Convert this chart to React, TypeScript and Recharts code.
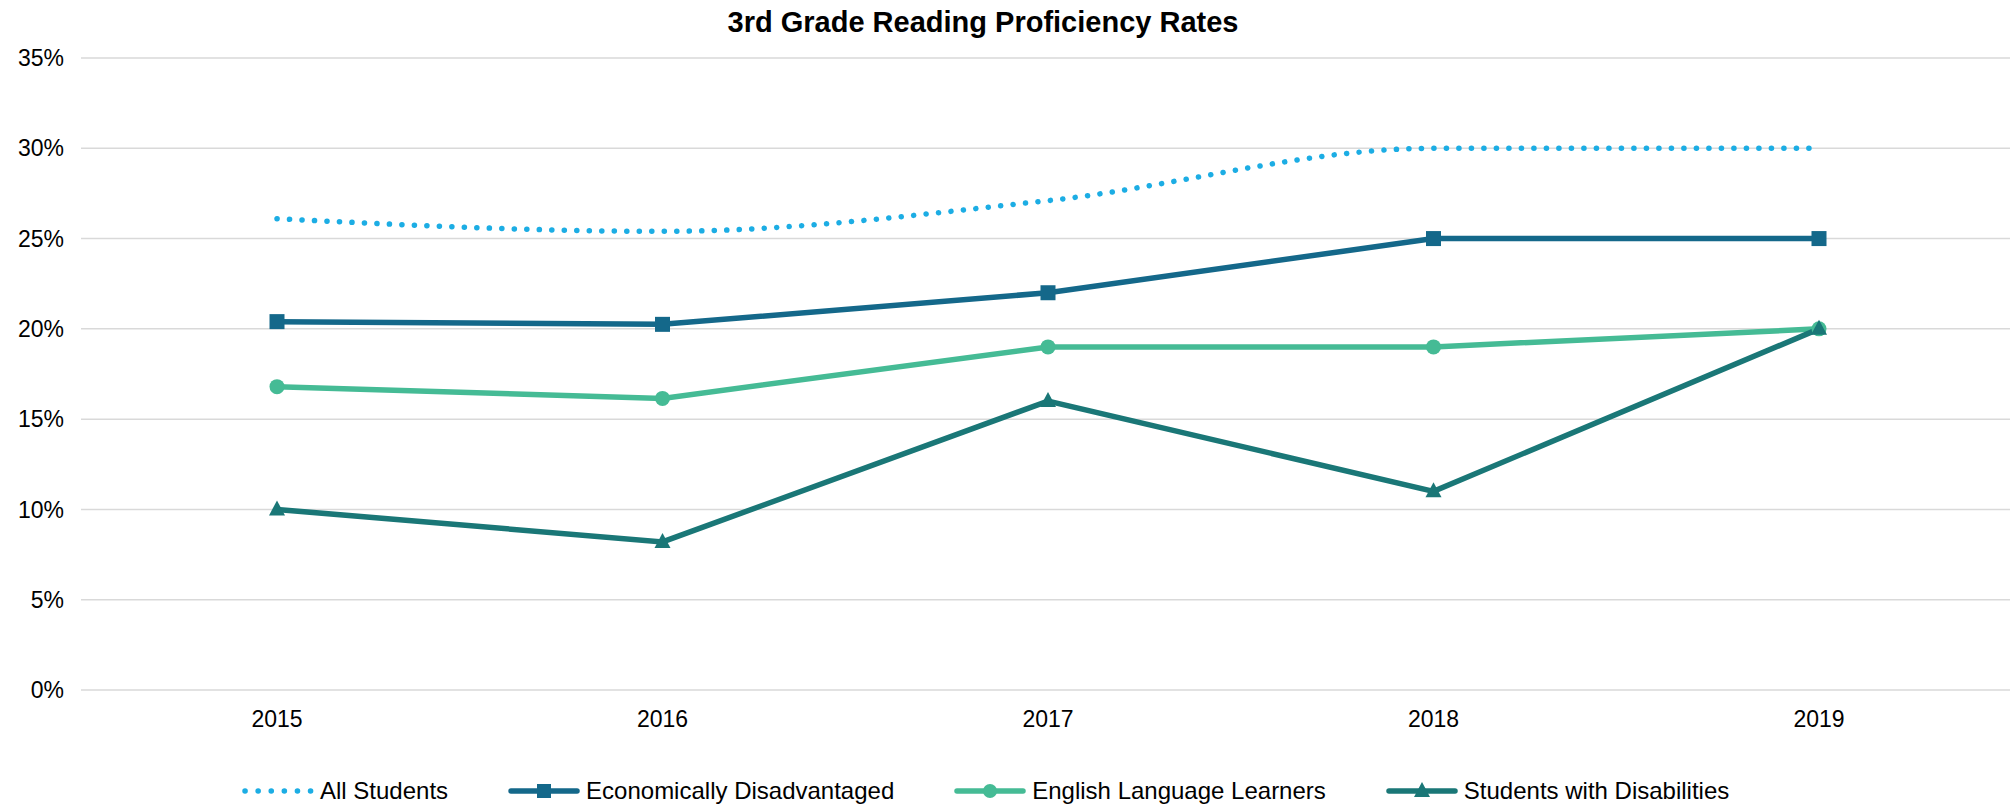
import React from 'react';
import { LineChart, Line, XAxis, YAxis, CartesianGrid } from 'recharts';

const years = ['2015', '2016', '2017', '2018', '2019'];
const allStudents = [26.1, 25.4, 27.1, 30, 30];
const econDisadvantaged = [20.4, 20.25, 22, 25, 25];
const englishLearners = [16.8, 16.15, 19, 19, 20];
const disabilities = [10, 8.2, 16, 11, 20];
const yTicks = [0, 5, 10, 15, 20, 25, 30, 35];

const COLORS = {
  all: '#1CADE4',
  econ: '#14688A',
  ell: '#45BB95',
  swd: '#1A7777',
};

const data = years.map((year, i) => ({
  year,
  all: allStudents[i],
  econ: econDisadvantaged[i],
  ell: englishLearners[i],
  swd: disabilities[i],
}));

const FONT = '"Liberation Sans", Arial, sans-serif';

// eslint-disable-next-line @typescript-eslint/no-explicit-any
const SquareDot = (props: any) => {
  const { cx, cy, index } = props;
  if (cx == null || cy == null) return null;
  return <rect key={`sq-${index}`} x={cx - 7.5} y={cy - 7.5} width={15} height={15} fill={COLORS.econ} />;
};

// eslint-disable-next-line @typescript-eslint/no-explicit-any
const CircleDot = (props: any) => {
  const { cx, cy, index } = props;
  if (cx == null || cy == null) return null;
  return <circle key={`ci-${index}`} cx={cx} cy={cy} r={7.5} fill={COLORS.ell} />;
};

// eslint-disable-next-line @typescript-eslint/no-explicit-any
const TriangleDot = (props: any) => {
  const { cx, cy, index } = props;
  if (cx == null || cy == null) return null;
  return (
    <polygon
      key={`tr-${index}`}
      points={`${cx},${cy - 9} ${cx - 8},${cy + 6} ${cx + 8},${cy + 6}`}
      fill={COLORS.swd}
    />
  );
};

const legendItems = [
  { name: 'All Students', color: COLORS.all, marker: 'dots' },
  { name: 'Economically Disadvantaged', color: COLORS.econ, marker: 'square' },
  { name: 'English Language Learners', color: COLORS.ell, marker: 'circle' },
  { name: 'Students with Disabilities', color: COLORS.swd, marker: 'triangle' },
];

function LegendIcon({ color, marker }: { color: string; marker: string }) {
  return (
    <svg width={72} height={20} style={{ display: 'block' }}>
      {marker === 'dots' ? (
        <line x1={3} y1={10} x2={70} y2={10} stroke={color} strokeWidth={5.5} strokeLinecap="round" strokeDasharray="0.1 13" />
      ) : (
        <line x1={3} y1={10} x2={69} y2={10} stroke={color} strokeWidth={5.5} strokeLinecap="round" />
      )}
      {marker === 'square' && <rect x={29} y={3} width={14} height={14} fill={color} />}
      {marker === 'circle' && <circle cx={36} cy={10} r={7} fill={color} />}
      {marker === 'triangle' && <polygon points="36,1 28,16 44,16" fill={color} />}
    </svg>
  );
}

export default function App() {
  return (
    <div style={{ position: 'absolute', left: 0, top: 0, width: 2010, height: 805, background: '#fff', fontFamily: FONT }}>
      <div
        style={{
          position: 'absolute',
          top: 5,
          left: 0,
          width: 1966,
          textAlign: 'center',
          fontSize: 29,
          fontWeight: 'bold',
          color: '#000',
          lineHeight: '34px',
        }}
      >
        3rd Grade Reading Proficiency Rates
      </div>
      <LineChart width={2010} height={805} data={data} margin={{ top: 58, right: 0, left: 0, bottom: 0 }}>
        <CartesianGrid vertical={false} stroke="#D9D9D9" strokeWidth={1.5} />
        <XAxis
          dataKey="year"
          height={115}
          axisLine={false}
          tickLine={false}
          tickSize={0}
          tickMargin={21}
          padding={{ left: 196, right: 191 }}
          tick={{ fill: '#000', fontSize: 23, fontFamily: FONT }}
        />
        <YAxis
          width={81}
          domain={[0, 35]}
          ticks={yTicks}
          tickFormatter={(v: number) => `${v}%`}
          axisLine={false}
          tickLine={false}
          tickSize={0}
          tickMargin={17}
          tick={{ fill: '#000', fontSize: 23, fontFamily: FONT }}
        />
        <Line
          type="monotone"
          dataKey="all"
          stroke={COLORS.all}
          strokeWidth={5.5}
          strokeLinecap="round"
          strokeDasharray="0.1 12.4"
          dot={false}
          isAnimationActive={false}
        />
        <Line
          type="linear"
          dataKey="econ"
          stroke={COLORS.econ}
          strokeWidth={5.5}
          dot={SquareDot}
          activeDot={false}
          isAnimationActive={false}
        />
        <Line
          type="linear"
          dataKey="ell"
          stroke={COLORS.ell}
          strokeWidth={5.5}
          dot={CircleDot}
          activeDot={false}
          isAnimationActive={false}
        />
        <Line
          type="linear"
          dataKey="swd"
          stroke={COLORS.swd}
          strokeWidth={5.5}
          dot={TriangleDot}
          activeDot={false}
          isAnimationActive={false}
        />
      </LineChart>
      <div
        style={{
          position: 'absolute',
          top: 779,
          left: 242,
          display: 'flex',
          alignItems: 'center',
          gap: 60,
          fontSize: 24,
          color: '#000',
          lineHeight: '24px',
        }}
      >
        {legendItems.map((item) => (
          <div key={item.name} style={{ display: 'flex', alignItems: 'center', gap: 6 }}>
            <LegendIcon color={item.color} marker={item.marker} />
            <span>{item.name}</span>
          </div>
        ))}
      </div>
    </div>
  );
}
